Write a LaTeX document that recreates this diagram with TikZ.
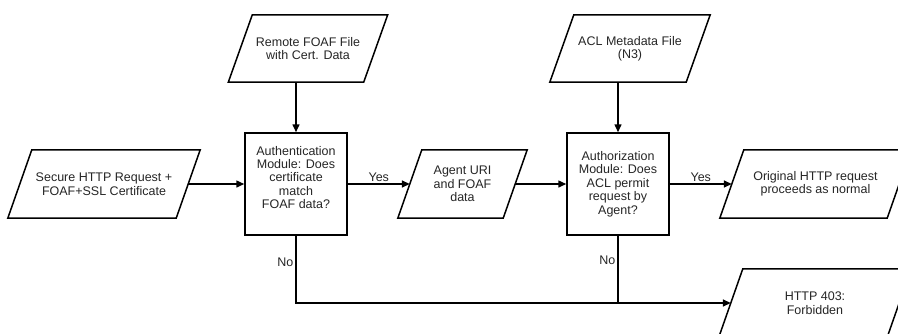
\documentclass[tikz,border=0pt]{standalone}
\usepackage{fontspec}
\setmainfont{Liberation Sans}
\usetikzlibrary{arrows.meta}
\newcommand\drawpara[1]{\draw[paraline] ([xshift=12pt]#1.north west) -- ([xshift=12pt]#1.north east)
  -- ([xshift=-12pt]#1.south east) -- ([xshift=-12pt]#1.south west) -- cycle;}
\begin{document}
\begin{tikzpicture}[x=1pt,y=-1pt,
  every node/.style={font=\fontsize{12.5}{13.4}\selectfont, text=black!85, align=center},
  para/.style={rectangle, minimum height=68pt, inner sep=0pt},
  paraline/.style={draw=black, line width=1.5pt, line join=miter},
  decision/.style={draw=black, line width=1.5pt, rectangle, minimum width=102pt,
    minimum height=102pt, inner sep=0pt},
  conn/.style={draw=black, line width=1.5pt},
  arr/.style={conn, -{Triangle[length=8pt,width=7pt]}},
  lbl/.style={inner sep=2pt}
]
\useasboundingbox (0,0) rectangle (898,333);
\fill[white] (0,0) rectangle (898,333);
\clip (0,0) rectangle (898,333);

\node[para, minimum width=168pt] (sec) at (104,184) {Secure HTTP Request +\\FOAF+SSL Certificate};
\node[para, minimum width=135pt, minimum height=67pt] (remote) at (308,48.5) {Remote FOAF File\\with Cert. Data};
\node[decision] (auth) at (296,184) {Authentication\\Module: Does\\certificate\\match\\FOAF data?\\ };
\node[para, minimum width=105pt] (agent) at (462.5,184) {Agent URI\\and FOAF\\data};
\node[para, minimum width=136pt, minimum height=67pt] (acl) at (630,48.5) {ACL Metadata File\\(N3)};
\node[decision] (authz) at (618,184) {Authorization\\Module: Does\\ACL permit\\request by\\Agent?};
\node[para, minimum width=167pt] (orig) at (815.5,184) {Original HTTP request\\proceeds as normal};
\node[para, minimum width=168pt] (forb) at (815,303) {HTTP 403:\\Forbidden};

\drawpara{sec}
\drawpara{remote}
\drawpara{agent}
\drawpara{acl}
\drawpara{orig}
\drawpara{forb}

\draw[arr] (auth.north |- remote.south) -- (auth.north);
\draw[arr] (authz.north |- acl.south) -- (authz.north);
\draw[arr] (sec.east) -- (auth.west);
\draw[arr] (auth.east) -- node[lbl, above] (yes1) {Yes} (agent.west);
\draw[arr] (agent.east) -- (authz.west);
\draw[arr] (authz.east) -- node[lbl, above] (yes2) {Yes} (orig.west);
\draw[arr] (auth.south) |- node[lbl, left, pos=0.2] (no1) {No} (forb.west);
\draw[conn] (authz.south) -- node[lbl, left, pos=0.37] (no2) {No} (authz.south |- forb.west);
\end{tikzpicture}
\end{document}
